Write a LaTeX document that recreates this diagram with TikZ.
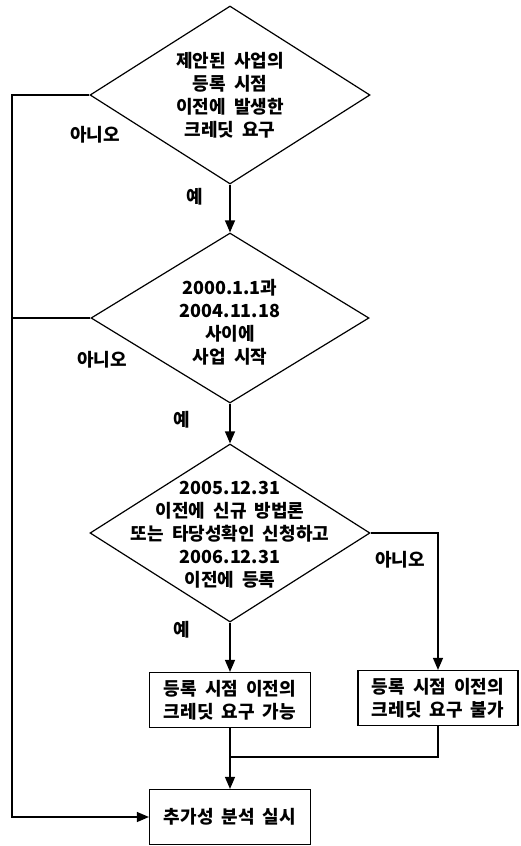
\documentclass[tikz,border=0pt]{standalone}
\usepackage{fontspec}
\setmainfont{Noto Sans CJK KR}[BoldFont={Noto Sans CJK KR Black}]
\usetikzlibrary{shapes.geometric, arrows.meta, positioning}

\newcommand{\ktext}{\bfseries\fontsize{18}{23}\selectfont\spaceskip=.45em\relax}

\begin{document}
\begin{tikzpicture}[node distance=215pt, x=1pt, y=1pt, >={Triangle[length=12pt,width=10pt]}]

% Stili
\tikzstyle{decision} = [diamond, draw, line width=1.2pt,
    minimum width=280pt, minimum height=178pt, inner sep=0pt]
\tikzstyle{block} = [rectangle, draw, line width=1.2pt,
    minimum width=161pt, minimum height=55pt, align=center, font=\ktext]
\tikzstyle{txt} = [align=center, inner sep=0pt, font=\ktext]
\tikzstyle{arrow} = [line width=1.2pt, ->]
\tikzstyle{line} = [line width=1.2pt]

\useasboundingbox (0,0) rectangle (520,-846);

% Nodi
\node (start) [decision,
    label={[txt]center:제안된 사업의\\등록 시점\\이전에 발생한\\크레딧 요구}] at (230,-95) {};
\node (period) [decision, below of=start, yshift=-8pt, minimum height=170pt, minimum width=278pt,
    label={[txt, yshift=-4pt]center:2000.1.1과\\2004.11.18\\사이에\\사업 시작}] {};
\node (apply) [decision, below of=period,
    label={[txt, yshift=-2pt]center:2005.12.31\\이전에 신규 방법론\\또는 타당성확인 신청하고\\2006.12.31\\이전에 등록}] {};
\node (possible) [block, node distance=167pt, below of=apply] {등록 시점 이전의\\크레딧 요구 가능};
\node (impossible) [block, node distance=208pt, right of=possible, yshift=2pt, minimum width=160pt] {등록 시점 이전의\\크레딧 요구 불가};
\node (analysis) [block, node distance=117pt, below of=possible] {추가성 분석 실시};

% Etichette
\node (no1) [txt] at (95,-135) {아니오};
\node (yes1) [txt] at (195,-197) {예};
\node (no2) [txt] at (102,-360) {아니오};
\node (yes2) [txt] at (182,-420) {예};
\node (no3) [txt] at (400,-560) {아니오};
\node (yes3) [txt] at (182,-630) {예};

\coordinate (rail) at (12,-95);
\coordinate (merge) at (230,-757);

% Frecce
\draw [arrow] (start) -- (period);
\draw [arrow] (period) -- (apply);
\draw [arrow] (apply) -- (possible);
\draw [arrow] (apply.east) -| (impossible.north);
\draw [line] (possible) -- (merge);
\draw [line] (impossible.south) |- (merge);
\draw [arrow] (merge) -- (analysis);
\draw [arrow] (start.west) -- (rail) |- (analysis.west);
\draw [line] (period.west) -- (period.west -| rail);

\end{tikzpicture}
\end{document}
